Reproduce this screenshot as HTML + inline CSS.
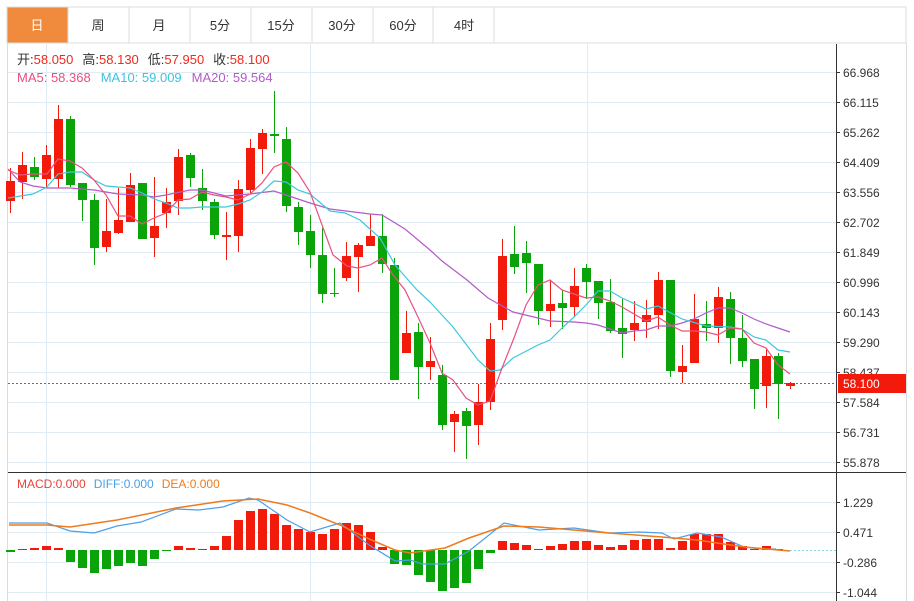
<!DOCTYPE html>
<html><head><meta charset="utf-8"><style>
body{margin:0;background:#fff;width:914px;height:601px;overflow:hidden;font-family:"Liberation Sans","Noto Sans CJK SC",sans-serif}
</style></head><body>
<svg width="914" height="601" xmlns="http://www.w3.org/2000/svg" style="position:absolute;left:0;top:0;font-family:'Liberation Sans','Noto Sans CJK SC',sans-serif">
<rect width="914" height="601" fill="#fff"/>
<!-- tabs -->
<rect x="7" y="7" width="899" height="36" fill="#fff" stroke="#dcdcdc"/>
<rect x="7.5" y="7.5" width="60" height="35" fill="#f08b3e"/>
<g stroke="#dcdcdc"><line x1="68" y1="7" x2="68" y2="43"/><line x1="129" y1="7" x2="129" y2="43"/><line x1="190" y1="7" x2="190" y2="43"/><line x1="251" y1="7" x2="251" y2="43"/><line x1="312" y1="7" x2="312" y2="43"/><line x1="373" y1="7" x2="373" y2="43"/><line x1="433" y1="7" x2="433" y2="43"/><line x1="494" y1="7" x2="494" y2="43"/></g>
<g font-size="13" text-anchor="middle" fill="#333"><text x="37" y="30" fill="#fff">日</text><text x="98" y="30">周</text><text x="159" y="30">月</text><text x="220" y="30">5分</text><text x="281" y="30">15分</text><text x="342" y="30">30分</text><text x="403" y="30">60分</text><text x="464" y="30">4时</text></g>
<!-- frame -->
<line x1="7.5" y1="43" x2="7.5" y2="601" stroke="#dcdcdc"/>
<line x1="906.5" y1="43" x2="906.5" y2="601" stroke="#dcdcdc"/>
<!-- grid -->
<g stroke="#e1ebf3">
<line x1="8" y1="72.5" x2="836" y2="72.5"/><line x1="8" y1="102.5" x2="836" y2="102.5"/><line x1="8" y1="132.5" x2="836" y2="132.5"/><line x1="8" y1="162.5" x2="836" y2="162.5"/><line x1="8" y1="192.5" x2="836" y2="192.5"/><line x1="8" y1="222.5" x2="836" y2="222.5"/><line x1="8" y1="252.5" x2="836" y2="252.5"/><line x1="8" y1="282.5" x2="836" y2="282.5"/><line x1="8" y1="312.5" x2="836" y2="312.5"/><line x1="8" y1="342.5" x2="836" y2="342.5"/><line x1="8" y1="372.5" x2="836" y2="372.5"/><line x1="8" y1="402.5" x2="836" y2="402.5"/><line x1="8" y1="432.5" x2="836" y2="432.5"/><line x1="8" y1="462.5" x2="836" y2="462.5"/>
<line x1="8" y1="502.5" x2="836" y2="502.5"/><line x1="8" y1="532.5" x2="836" y2="532.5"/><line x1="8" y1="562.5" x2="836" y2="562.5"/><line x1="8" y1="592.5" x2="836" y2="592.5"/>
<line x1="46.5" y1="44" x2="46.5" y2="601"/><line x1="310.5" y1="44" x2="310.5" y2="601"/><line x1="587.5" y1="44" x2="587.5" y2="601"/>
</g>
<!-- axes -->
<line x1="8" y1="472.5" x2="906" y2="472.5" stroke="#333"/>
<line x1="836.5" y1="44" x2="836.5" y2="601" stroke="#333"/>
<g stroke="#333"><line x1="836" y1="72.5" x2="840" y2="72.5"/><line x1="836" y1="102.5" x2="840" y2="102.5"/><line x1="836" y1="132.5" x2="840" y2="132.5"/><line x1="836" y1="162.5" x2="840" y2="162.5"/><line x1="836" y1="192.5" x2="840" y2="192.5"/><line x1="836" y1="222.5" x2="840" y2="222.5"/><line x1="836" y1="252.5" x2="840" y2="252.5"/><line x1="836" y1="282.5" x2="840" y2="282.5"/><line x1="836" y1="312.5" x2="840" y2="312.5"/><line x1="836" y1="342.5" x2="840" y2="342.5"/><line x1="836" y1="372.5" x2="840" y2="372.5"/><line x1="836" y1="402.5" x2="840" y2="402.5"/><line x1="836" y1="432.5" x2="840" y2="432.5"/><line x1="836" y1="462.5" x2="840" y2="462.5"/><line x1="836" y1="502.5" x2="840" y2="502.5"/><line x1="836" y1="532.5" x2="840" y2="532.5"/><line x1="836" y1="562.5" x2="840" y2="562.5"/><line x1="836" y1="592.5" x2="840" y2="592.5"/></g>
<g font-size="12" fill="#333">
<text x="843" y="77">66.968</text><text x="843" y="107">66.115</text><text x="843" y="137">65.262</text><text x="843" y="167">64.409</text><text x="843" y="197">63.556</text><text x="843" y="227">62.702</text><text x="843" y="257">61.849</text><text x="843" y="287">60.996</text><text x="843" y="317">60.143</text><text x="843" y="347">59.290</text><text x="843" y="377">58.437</text><text x="843" y="407">57.584</text><text x="843" y="437">56.731</text><text x="843" y="467">55.878</text>
<text x="843" y="507">1.229</text><text x="843" y="537">0.471</text><text x="843" y="567">-0.286</text><text x="843" y="597">-1.044</text>
</g>
<!-- price line -->
<line x1="8" y1="383.5" x2="836" y2="383.5" stroke="#f03a2e" stroke-dasharray="2,2"/>
<rect x="838" y="374" width="68" height="19" fill="#f21a0a"/>
<text x="843" y="388" font-size="12" fill="#fff">58.100</text>
<!-- header text -->
<g font-size="13">
<text x="17" y="64"><tspan fill="#333">开:</tspan><tspan fill="#f0281e">58.050</tspan><tspan fill="#333" dx="9">高:</tspan><tspan fill="#f0281e">58.130</tspan><tspan fill="#333" dx="9">低:</tspan><tspan fill="#f0281e">57.950</tspan><tspan fill="#333" dx="9">收:</tspan><tspan fill="#f0281e">58.100</tspan></text>
<text x="17" y="82"><tspan fill="#e94e7f">MA5: 58.368</tspan><tspan fill="#3cc3dc" dx="10">MA10: 59.009</tspan><tspan fill="#b35bc8" dx="10">MA20: 59.564</tspan></text>
</g>
<text x="17" y="488" font-size="12"><tspan fill="#e8433a">MACD:0.000</tspan><tspan fill="#4aa0e8" dx="8">DIFF:0.000</tspan><tspan fill="#f07a1c" dx="8">DEA:0.000</tspan></text>
<!-- candles -->
<g id="c"></g>
<!-- MA lines -->
<polyline fill="none" stroke="#b35bc8" stroke-width="1.2" points="8,169 20,182 33,186 47,188 70,188 94,190 118,194 142,195 154,197 166,195 190,190 202,190 226,196 250,194 274,191 298,199 310,203 330,209 370,214 382,215 405,229 430,250 442,261 467,280 488,298 513,312 538,318 550,321 574,322 586,323 598,325 610,329 622,333 634,331 646,330 658,326 670,326 682,323 694,319 706,313 718,308 730,308 742,313 754,319 766,324 778,328 790,332"/>
<polyline fill="none" stroke="#3cc8dc" stroke-width="1.2" points="8,198 33,194 47,187 58,174 70,172 82,172 94,180 106,186 118,187 130,188 142,193 154,199 166,203 178,208 190,208 202,207 226,207 238,204 250,200 262,192 274,181 286,182 298,190 310,194 330,211 345,213 360,220 380,238 395,265 417,290 430,302 453,327 478,360 490,371 500,370 513,358 538,345 550,340 562,328 574,317 586,305 598,291 610,291 622,298 646,309 658,306 682,319 706,326 730,327 742,329 754,337 766,340 778,350 790,352"/>
<polyline fill="none" stroke="#e9517f" stroke-width="1.2" points="8,170 20,175 33,174 47,174 58,159 70,161 82,168 94,180 106,195 118,216 130,216 142,224 154,218 166,213 178,200 190,199 202,192 214,195 226,197 238,200 250,194 262,183 274,167 286,162 298,173 310,192 333,255 347,266 358,268 370,265 382,258 393,275 405,290 418,317 430,343 442,373 453,380 466,398 478,405 490,401 502,368 514,338 526,305 538,285 550,280 562,290 574,294 586,298 598,297 610,301 622,307 634,314 646,321 658,317 670,325 682,331 694,331 706,332 718,335 730,328 742,329 754,343 766,348 778,365 790,374"/>
<!-- macd bars -->
<g id="m"></g>
<line x1="790" y1="550.5" x2="836" y2="550.5" stroke="#8fd0ec" stroke-dasharray="2,2"/>
<polyline fill="none" stroke="#4aa0e8" stroke-width="1.2" points="9,523 47,523 70,531 94,533 117,526 141,522 176,509 199,510 223,507 249,498 258,500 287,520 310,532 340,523 369,545 395,561 410,560 422,564 445,564 469,551 504,523 539,530 574,528 609,533 639,532 662,533 674,539 697,533 721,537 744,547 762,549 776,549"/>
<polyline fill="none" stroke="#f07a1c" stroke-width="1.5" points="9,525 47,525 70,527 117,520 176,508 223,501 258,499 287,505 310,513 340,525 369,539 395,550 410,553 445,548 469,538 504,526 539,527 609,533 662,537 697,540 744,547 790,551"/>
</svg>
<script>
var C=[[10,'r',181,201,168,213],[22,'r',165,182,152,199],[34,'g',167,177,157,180],[46,'r',155,179,145,187],[58,'r',119,179,105,188],[70,'g',119,185,116,187],[82,'g',183,200,183,221],[94,'g',200,248,194,265],[106,'r',231,247,199,252],[118,'r',220,233,188,234],[130,'r',185,222,173,222],[142,'g',183,239,183,239],[154,'r',226,238,177,257],[166,'r',202,213,188,228],[178,'r',157,201,149,215],[190,'g',155,178,153,187],[202,'g',188,201,169,210],[214,'g',202,235,199,239],[226,'r',235,237,212,260],[238,'r',189,236,180,252],[250,'r',148,190,139,193],[262,'r',133,149,129,174],[274,'g',134,136,91,153],[286,'g',139,206,127,212],[298,'g',207,232,202,245],[310,'g',231,255,215,268],[322,'g',255,294,228,303],[334,'g',293,294,268,297],[346,'r',256,278,242,281],[358,'r',245,257,243,292],[370,'r',236,246,214,246],[382,'g',236,264,214,273],[394,'g',265,380,258,380],[406,'r',333,353,311,353],[418,'g',332,367,323,399],[430,'r',361,367,337,380],[442,'g',375,425,365,430],[454,'r',414,422,411,452],[466,'g',411,426,408,459],[478,'r',402,425,384,445],[490,'r',339,402,323,410],[502,'r',256,320,239,330],[514,'g',254,267,226,274],[526,'g',253,263,241,293],[538,'g',264,311,264,325],[550,'r',304,311,280,327],[562,'g',303,308,290,329],[574,'r',286,307,268,317],[586,'g',268,282,264,299],[598,'g',281,303,281,319],[610,'g',302,331,279,333],[622,'g',328,334,299,358],[634,'r',323,330,301,341],[646,'r',315,322,300,338],[658,'r',280,315,272,329],[670,'g',280,371,280,377],[682,'r',366,372,345,383],[694,'r',319,363,294,363],[706,'g',324,328,301,341],[718,'r',297,328,287,343],[730,'g',299,338,292,364],[742,'g',338,361,315,367],[754,'g',359,389,359,409],[766,'r',356,386,349,408],[778,'g',356,384,353,419],[790,'r',383,386,382,389]];
var M=[552,549,548,546,548,562,568,573,569,566,563,566,559,551,546,548,549,546,536,520,511,509,514,525,529,532,534,529,523,525,532,547,564,565,575,582,591,588,583,569,553,541,543,545,549,546,544,541,541,545,547,545,540,539,539,548,541,534,534,534,542,546,549,546,549];
var R='#f21a0a',G='#0aa30a',s='',t='';
C.forEach(function(c){var col=c[1]=='r'?R:G;var h=Math.max(1,c[3]-c[2]);
s+='<line x1="'+(c[0]+.5)+'" y1="'+c[4]+'" x2="'+(c[0]+.5)+'" y2="'+c[5]+'" stroke="'+col+'"/>';
s+='<rect x="'+(c[0]-4)+'" y="'+c[2]+'" width="9" height="'+h+'" fill="'+col+'"/>';});
M.forEach(function(v,i){var x=10+12*i-4;var col=v<550?R:G;var y=Math.min(v,550),h=Math.max(1,Math.abs(v-550));
t+='<rect x="'+x+'" y="'+y+'" width="9" height="'+h+'" fill="'+col+'"/>';});
document.getElementById('c').innerHTML=s;document.getElementById('m').innerHTML=t;
</script>
</body></html>
